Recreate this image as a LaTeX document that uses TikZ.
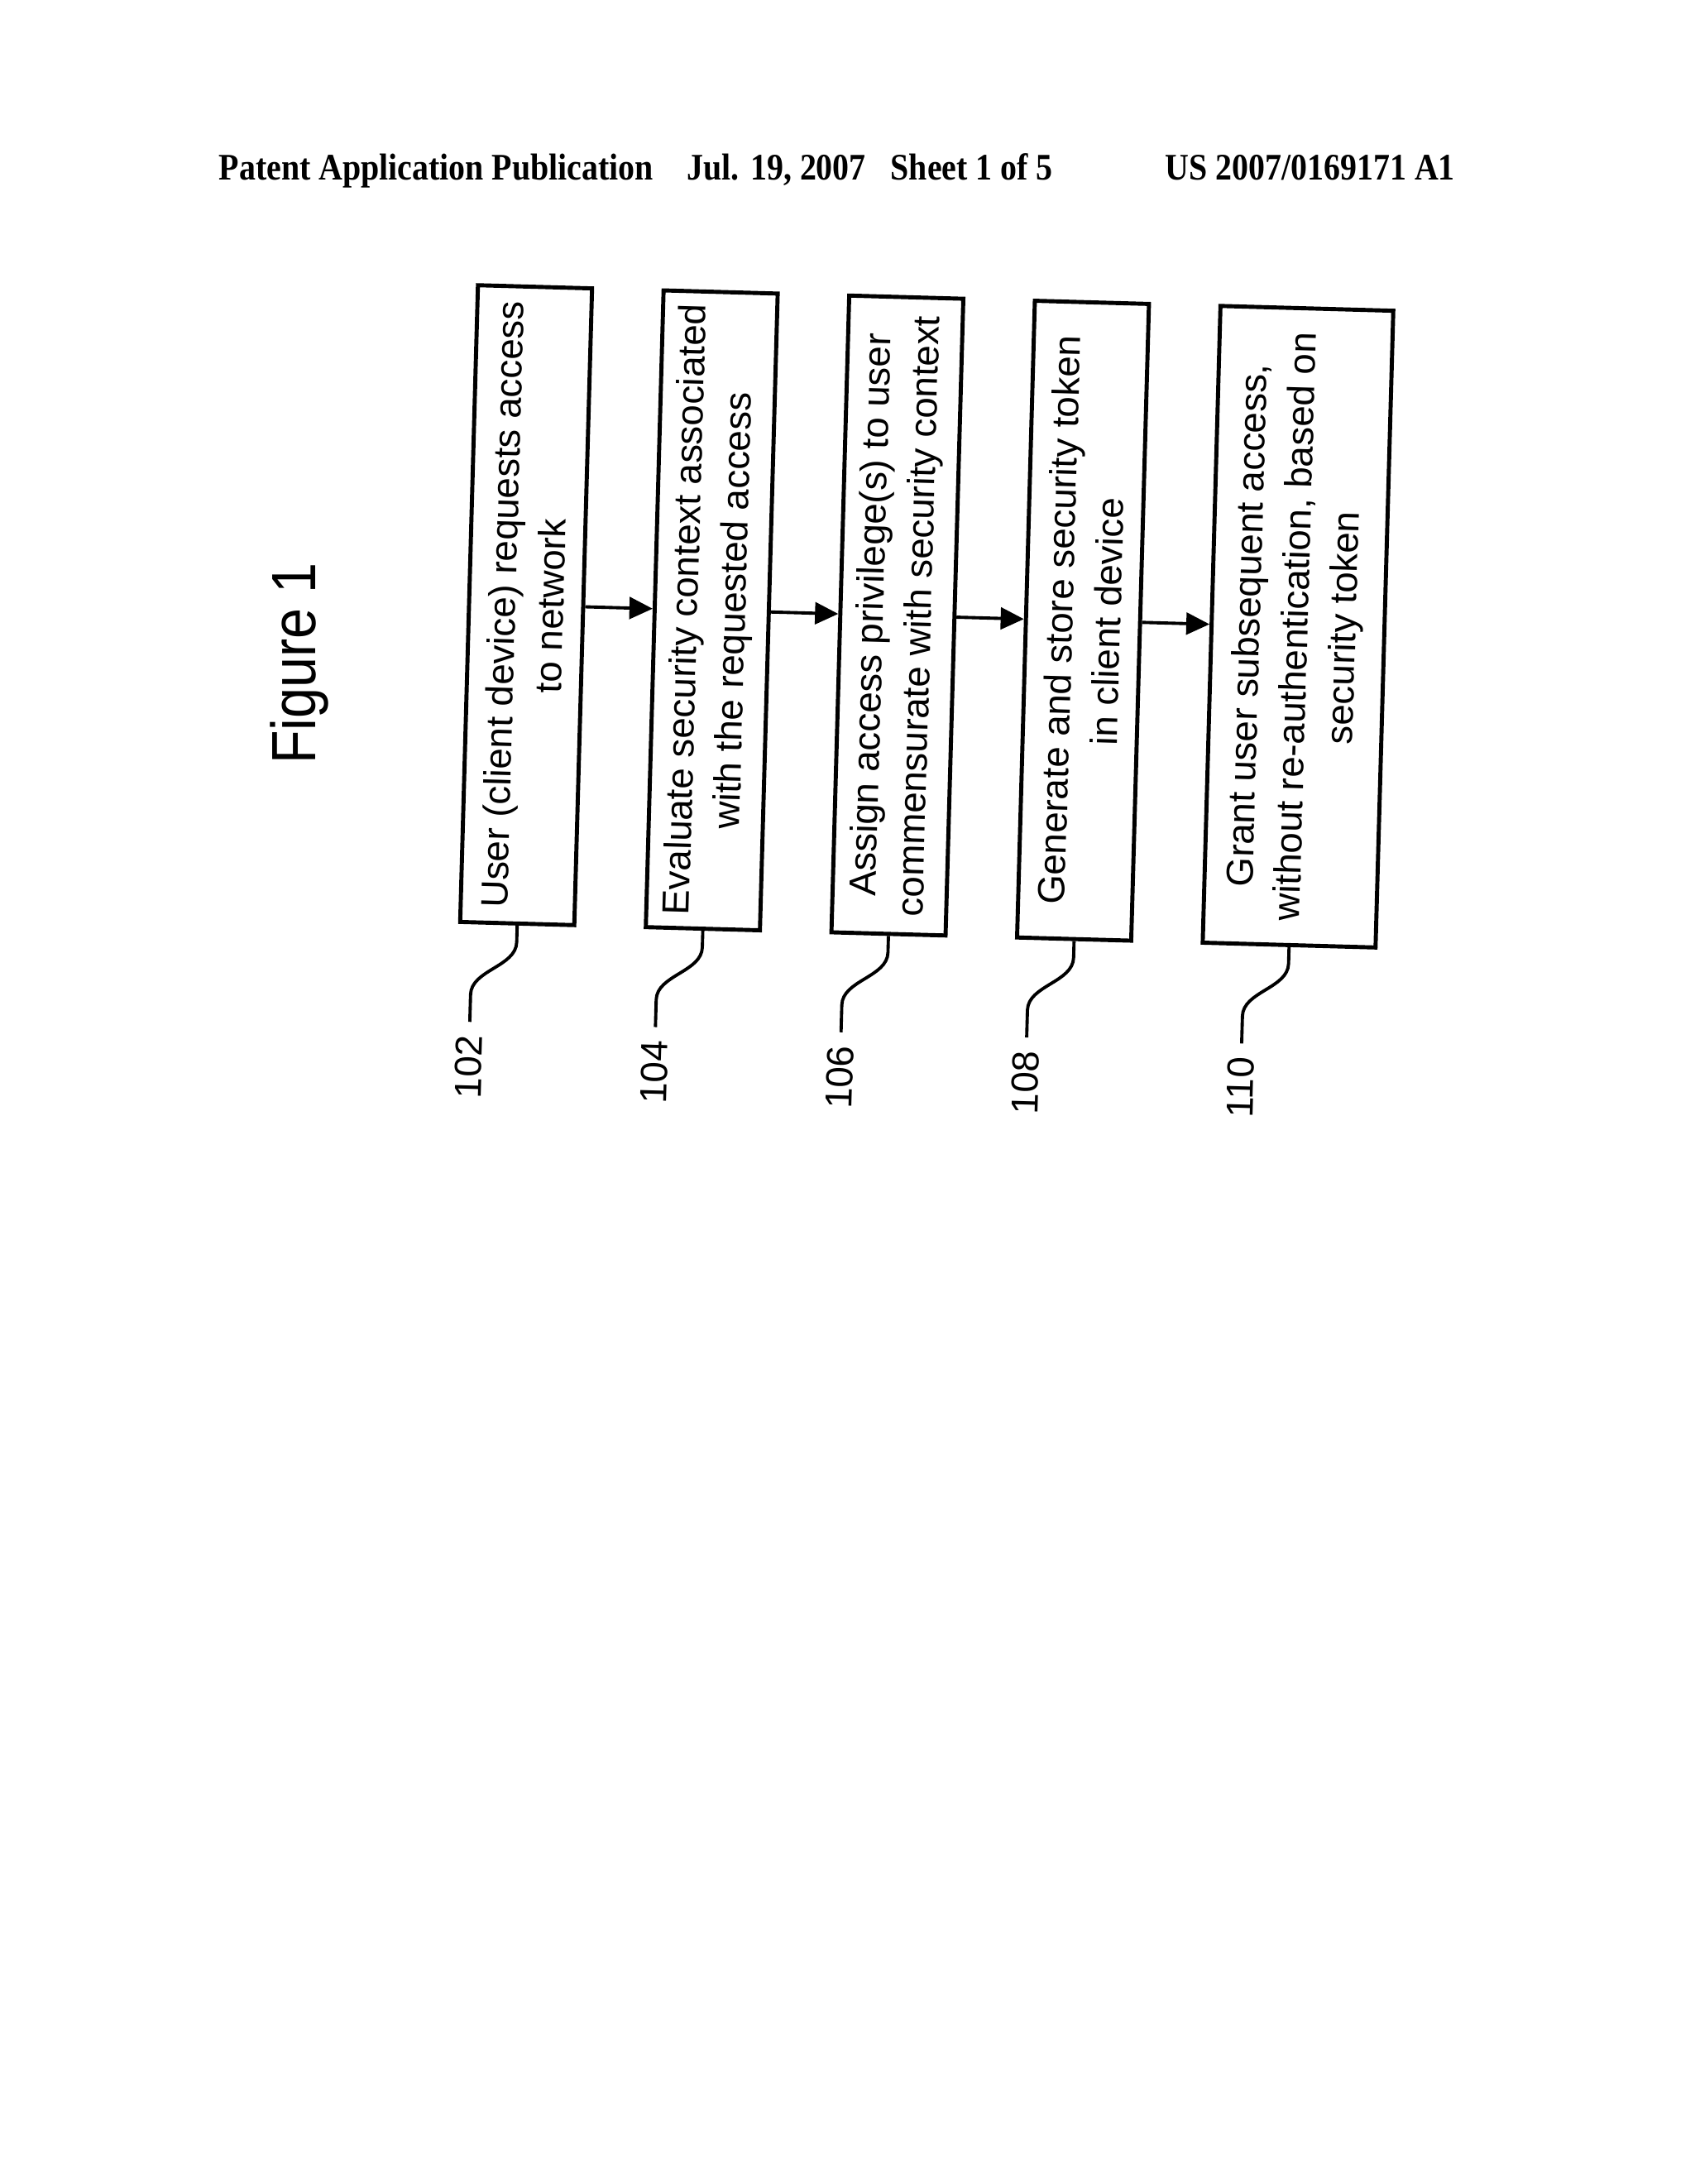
\documentclass[tikz,border=0pt]{standalone}
\usepackage{fontspec}
\setmainfont{Liberation Serif}
\setsansfont{Liberation Sans}
\newfontfamily\hdrfont[FakeStretch=0.88]{Liberation Serif}
\newfontfamily\figfont[FakeStretch=0.88]{Liberation Sans}
\usetikzlibrary{arrows.meta}

\begin{document}
\begin{tikzpicture}[
  stepbox/.style={draw, line width=1.4pt, rotate=90, minimum width=7.7cm,
    minimum height=1.38cm, inner sep=0pt, align=center,
    font=\sffamily\fontsize{13}{16.5}\selectfont},
  flowarrow/.style={line width=1.1pt, -{Triangle[length=8pt,width=7.5pt]}},
  leader/.style={line width=1.1pt},
  refnum/.style={rotate=90, anchor=east, inner sep=4.5pt,
    font=\sffamily\fontsize{13}{13}\selectfont},
  hdr/.style={anchor=base west, inner sep=0pt,
    font=\hdrfont\bfseries\fontsize{12.9}{14}\selectfont}
]
\useasboundingbox (0,0) rectangle (20.48,-26.40);
% page header
\node[hdr] (hpub)   at (2.64,-2.17)  {Patent Application Publication};
\node[hdr] (hdate)  at (8.30,-2.17)  {Jul. 19, 2007};
\node[hdr] (hsheet) at (10.76,-2.17) {Sheet 1 of 5};
\node[hdr] (hnum)   at (14.08,-2.17) {US 2007/0169171 A1};
% figure title
\node[rotate=90, font=\figfont\fontsize{21.5}{21.5}\selectfont] (title) at (3.62,-8.02) {Figure 1};

% flow of steps, slightly skewed like the sheet
\begin{scope}[shift={(6.36,-7.315)}, rotate=-1.6, transform shape]
  \node[stepbox] (b102) at (0,0)     {User (client device) requests access\\to network};
  \node[stepbox] (b104) at (2.245,0) {Evaluate security context associated\\with the requested access};
  \node[stepbox] (b106) at (4.49,0)  {Assign access privilege(s) to user\\commensurate with security context};
  \node[stepbox] (b108) at (6.735,0) {Generate and store security token\\in client device};
  \node[stepbox, minimum height=2.09cm] (b110) at (9.335,0)
    {Grant user subsequent access,\\without re-authentication, based on\\security token};
  % arrows between steps
  \draw[flowarrow] (b102.south) -- (b104.north);
  \draw[flowarrow] (b104.south) -- (b106.north);
  \draw[flowarrow] (b106.south) -- (b108.north);
  \draw[flowarrow] (b108.south) -- (b110.north);
  % reference numerals
  \foreach \n in {102,104,106,108,110} {
    \draw[leader] (b\n.west) -- ++(0,-0.2)
      .. controls +(0,-0.3) and +(0,0.3) .. ++(-0.54,-0.65)
      -- ++(0,-0.33) coordinate (e\n);
    \node[refnum] (n\n) at (e\n) {\n};
  }
\end{scope}
\end{tikzpicture}
\end{document}
